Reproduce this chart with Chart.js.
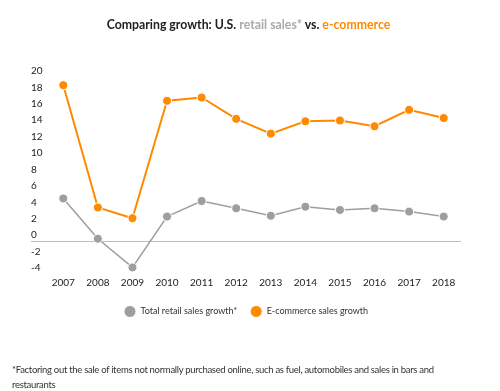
<!DOCTYPE html>
<html>
<head>
<meta charset="utf-8">
<script src="https://cdn.jsdelivr.net/npm/chart.js@4"></script>
<style>
  html, body { margin: 0; padding: 0; background: #fff; }
  body { width: 500px; height: 391px; position: relative; overflow: hidden; font-family: Lato, sans-serif; }
  #title { position: absolute; top: 17px; left: 0; width: 497px; text-align: center; font-size: 12.3px; font-weight: bold; color: #222; }
  #title .retail { color: #aaa; }
  #title .ecom { color: #ff8a00; }
  #wrap { position: absolute; left: 0; top: 0; width: 500px; height: 391px; }
  #note { position: absolute; left: 12px; top: 362px; width: 440px; font-size: 9.5px; letter-spacing: -0.3px; line-height: 15px; color: #333; }
</style>
</head>
<body>
<div id="wrap"><canvas id="growthChart"></canvas></div>
<div id="title">Comparing growth: U.S. <span class="retail">retail sales*</span> vs. <span class="ecom">e-commerce</span></div>
<div id="note">*Factoring out the sale of items not normally purchased online, such as fuel, automobiles and sales in bars and restaurants</div>

<script>
// values (percent)
const years = ['2007', '2008', '2009', '2010', '2011', '2012', '2013', '2014', '2015', '2016', '2017', '2018'];
const retailGrowth = [5.2, 0.3, -3.2, 3.0, 4.9, 4.0, 3.1, 4.2, 3.8, 4.0, 3.6, 3.0];
const ecommerceGrowth = [19.0, 4.1, 2.8, 17.1, 17.5, 14.9, 13.1, 14.6, 14.7, 14.0, 16.0, 15.0];
const yTicks = [20, 18, 16, 14, 12, 10, 8, 6, 4, 2, 0, -2, -4];

const grey = '#9e9e9e';
const orange = '#ff8a00';

const ctx = document.getElementById('growthChart').getContext('2d');

new Chart(ctx, {
  type: 'line',
  data: {
    labels: years,
    datasets: [{
      label: 'Total retail sales growth*',
      data: retailGrowth,
      borderColor: grey,
      backgroundColor: grey,
      borderWidth: 1.5,
      pointRadius: 4.5,
      pointBorderColor: '#fff',
      pointBorderWidth: 1,
      pointBackgroundColor: grey,
      tension: 0
    }, {
      label: 'E-commerce sales growth',
      data: ecommerceGrowth,
      borderColor: orange,
      backgroundColor: orange,
      borderWidth: 2,
      pointRadius: 4.5,
      pointBorderColor: '#fff',
      pointBorderWidth: 1,
      pointBackgroundColor: orange,
      tension: 0
    }]
  },
  options: {
    responsive: true,
    maintainAspectRatio: false,
    animation: false,
    layout: { padding: { top: 77, left: 31, right: 39, bottom: 65 } },
    scales: {
      x: {
        offset: true,
        grid: { display: false, drawTicks: false },
        border: { display: false },
        ticks: { color: '#222', font: { family: 'Lato', size: 10 }, padding: 3 },
        afterFit: function (scale) { scale.height = 20; }
      },
      y: {
        min: -4,
        max: 20,
        afterBuildTicks: function (scale) {
          scale.ticks = yTicks.map(v => ({ value: v }));
        },
        border: { display: false },
        grid: {
          drawTicks: true,
          tickLength: 15,
          color: c => c.tick && c.tick.value === 0 ? '#bdbdbd' : 'rgba(0,0,0,0)',
          lineWidth: 1
        },
        ticks: {
          color: '#222',
          font: { family: 'Lato', size: 10 },
          crossAlign: 'far',
          labelOffset: -6,
          padding: 0
        },
        afterFit: function (scale) { scale.width = 15; }
      }
    },
    plugins: {
      legend: {
        position: 'bottom',
        labels: {
          usePointStyle: true,
          pointStyleWidth: 12,
          boxHeight: 8.5,
          padding: 13,
          color: '#333',
          font: { family: 'Lato', size: 9 }
        }
      },
      tooltip: { enabled: false }
    }
  }
});
</script>
</body>
</html>
